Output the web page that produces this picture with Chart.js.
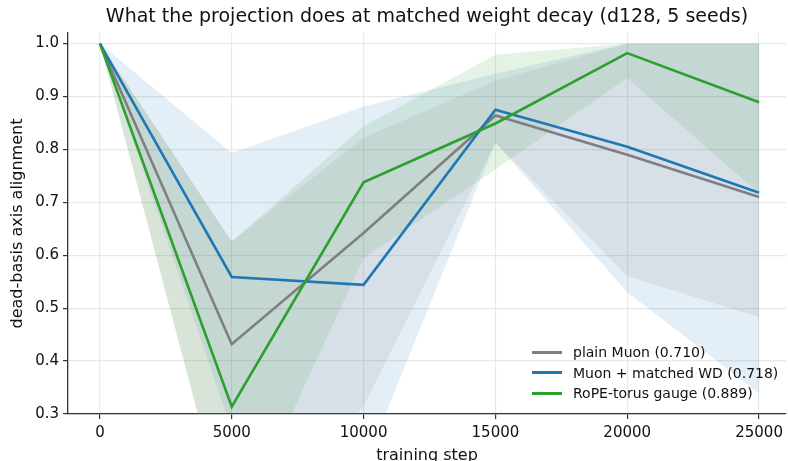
<!DOCTYPE html>
<html>
<head>
<meta charset="utf-8">
<script src="https://cdn.jsdelivr.net/npm/chart.js@4.4.1/dist/chart.umd.min.js"></script>
<style>
  html, body { margin: 0; padding: 0; background: #fff; }
  #wrap { position: relative; width: 788px; height: 461px; overflow: hidden; }
  #legend { position: absolute; left: 532px; top: 342px; font-family: 'DejaVu Sans'; font-size: 14px; color: #111; }
  #legend .row { display: flex; align-items: center; height: 20.5px; white-space: nowrap; }
  #legend .swatch { width: 30px; height: 3px; margin-right: 11px; }
</style>
</head>
<body>
<div id="wrap">
  <canvas id="projChart" width="788" height="461"></canvas>
  <div id="legend"></div>
</div>
<script>
// training steps and axis ticks
const steps = [0, 5000, 10000, 15000, 20000, 25000];
const xTicks = [0, 5000, 10000, 15000, 20000, 25000];
const yTicks = [0.3, 0.4, 0.5, 0.6, 0.7, 0.8, 0.9, 1.0];

const seriesNames = ['plain Muon (0.710)', 'Muon + matched WD (0.718)', 'RoPE-torus gauge (0.889)'];
const seriesColors = ['#7f7f7f', '#1f77b4', '#2ca02c'];
const bandColors = ['rgba(127,127,127,0.12)', 'rgba(31,119,180,0.12)', 'rgba(44,160,44,0.12)'];

// mean over seeds
const plainMean = [1.0, 0.432, 0.642, 0.864, 0.790, 0.710];
const wdMean    = [1.0, 0.559, 0.544, 0.875, 0.805, 0.718];
const torusMean = [1.0, 0.314, 0.738, 0.849, 0.982, 0.889];

// seed spread (upper / lower edge of shaded band)
const plainUpper = [1.0, 0.626, 0.822, 0.930, 1.0, 1.0];
const plainLower = [1.0, 0.060, 0.314, 0.813, 0.561, 0.483];
const wdUpper    = [1.0, 0.793, 0.881, 0.943, 1.0, 1.0];
const wdLower    = [1.0, 0.270, 0.197, 0.813, 0.530, 0.339];
const torusUpper = [1.0, 0.626, 0.844, 0.979, 1.0, 1.0];
const torusLower = [1.0, 0.055, 0.595, 0.762, 0.935, 0.717];

const FONT = 'DejaVu Sans';

function pts(vals) {
  return steps.map((s, i) => ({ x: s, y: vals[i] }));
}

function band(upper, lower, color, upperIndex) {
  return [
    { data: pts(upper), borderWidth: 0, pointRadius: 0, fill: false, order: 10 },
    { data: pts(lower), borderWidth: 0, pointRadius: 0, backgroundColor: color,
      fill: { target: upperIndex }, order: 10 }
  ];
}

function line(vals, color, order) {
  return { data: pts(vals), borderColor: color, borderWidth: 2.6, pointRadius: 0,
    fill: false, tension: 0, order: order };
}

const datasets = [
  ...band(plainUpper, plainLower, bandColors[0], 0),
  ...band(wdUpper, wdLower, bandColors[1], 2),
  ...band(torusUpper, torusLower, bandColors[2], 4),
  line(plainMean, seriesColors[0], 3),
  line(wdMean, seriesColors[1], 2),
  line(torusMean, seriesColors[2], 1)
];

new Chart(document.getElementById('projChart'), {
  type: 'line',
  data: { datasets: datasets },
  options: {
    responsive: false,
    animation: false,
    layout: { padding: 0 },
    plugins: {
      legend: { display: false },
      tooltip: { enabled: false },
      title: {
        display: true,
        fullSize: false,
        text: 'What the projection does at matched weight decay (d128, 5 seeds)',
        color: '#111',
        font: { family: FONT, size: 19, weight: 'normal' },
        padding: { top: 5.6, bottom: 4.6 }
      }
    },
    scales: {
      x: {
        type: 'linear',
        min: -1210,
        max: 26020,
        afterBuildTicks: s => { s.ticks = xTicks.map(v => ({ value: v })); },
        afterFit: s => { s.height = 47; },
        ticks: {
          color: '#111',
          font: { family: FONT, size: 15 },
          padding: 5,
          maxRotation: 0,
          callback: v => String(v)
        },
        grid: { color: '#e8e8e8', lineWidth: 1.2, tickLength: 5, tickColor: '#333', tickWidth: 1.2 },
        border: { display: true, color: '#333', width: 1.3 },
        title: {
          display: true,
          text: 'training step',
          color: '#111',
          font: { family: FONT, size: 16 },
          padding: { top: 0, bottom: -4 }
        }
      },
      y: {
        min: 0.3,
        max: 1.02,
        afterBuildTicks: s => { s.ticks = yTicks.map(v => ({ value: v })); },
        afterFit: s => { s.width = 68; },
        ticks: {
          color: '#111',
          font: { family: FONT, size: 15 },
          padding: 4,
          callback: v => v.toFixed(1)
        },
        grid: { color: '#e8e8e8', lineWidth: 1.2, tickLength: 5, tickColor: '#333', tickWidth: 1.2 },
        border: { display: true, color: '#333', width: 1.3 },
        title: {
          display: true,
          text: 'dead-basis axis alignment',
          color: '#111',
          font: { family: FONT, size: 16 },
          padding: { top: 8, bottom: 0 }
        }
      }
    }
  }
});

// legend drawn as html in the lower right of the plot
const legendEl = document.getElementById('legend');
seriesNames.forEach((name, i) => {
  const row = document.createElement('div');
  row.className = 'row';
  const sw = document.createElement('span');
  sw.className = 'swatch';
  sw.style.background = seriesColors[i];
  const label = document.createElement('span');
  label.textContent = name;
  row.appendChild(sw);
  row.appendChild(label);
  legendEl.appendChild(row);
});
</script>
</body>
</html>
